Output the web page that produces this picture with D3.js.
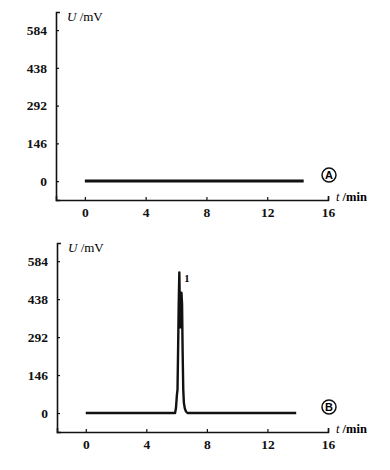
<!DOCTYPE html>
<html>
<head>
<meta charset="utf-8">
<script src="https://cdn.jsdelivr.net/npm/d3@7"></script>
<style>
  body { margin: 0; background: #fff; }
  svg { display: block; }
</style>
</head>
<body>
<div id="viz"></div>
<script>
// data
const xTicks = [0, 4, 8, 12, 16];
const yTicks = [0, 146, 292, 438, 584];

// panel A: flat baseline
const timeA = [0, 14.4];
const signalA = [0, 0];

// panel B: single split peak near 6.2 min
const timeB = [0, 5.9, 5.96, 6.02, 6.06, 6.1, 6.14, 6.18, 6.21, 6.25, 6.28, 6.32, 6.36, 6.4, 6.44, 6.48, 6.54, 6.62, 6.72, 13.9];
const signalB = [0, 0, 20, 70, 90, 250, 420, 541, 420, 330, 340, 463, 420, 230, 90, 40, 18, 6, 0, 0];
const peakLabels = ["1"];

const width = 390, height = 470;

const svg = d3.select("#viz")
  .append("svg")
  .attr("width", width)
  .attr("height", height)
  .style("font-family", "'Liberation Serif', 'Times New Roman', serif")
  .style("font-weight", "bold")
  .style("font-size", "12px");

function panel(opts) {
  const x = d3.scaleLinear().domain([-1.9, 16]).range([opts.left, opts.right]);
  const y = d3.scaleLinear().domain([-73, 654]).range([opts.bottom, opts.top]);

  const g = svg.append("g");

  const xAxis = g.append("g")
    .attr("transform", `translate(0,${opts.bottom})`)
    .call(d3.axisBottom(x).tickValues(xTicks).tickSizeInner(-3).tickSizeOuter(-4).tickPadding(7));

  const yAxis = g.append("g")
    .attr("transform", `translate(${opts.left},0)`)
    .call(d3.axisLeft(y).tickValues(yTicks).tickSizeInner(-3).tickSizeOuter(-4).tickPadding(9));

  [xAxis, yAxis].forEach(a => {
    a.select(".domain").attr("stroke", "#111").attr("stroke-width", 1.6);
    a.selectAll(".tick line").attr("stroke", "#111").attr("stroke-width", 1.2);
    a.selectAll(".tick text")
      .attr("fill", "#111")
      .style("font-family", "'Liberation Serif', serif")
      .style("font-size", "13.5px")
      .style("font-weight", "bold");
  });

  const line = d3.line().x((d, i) => x(opts.t[i])).y(d => y(d));

  g.append("path")
    .datum(opts.v)
    .attr("fill", "none")
    .attr("stroke", "#111")
    .attr("stroke-width", opts.lw)
    .attr("stroke-linejoin", "round")
    .attr("d", line);

  // axis titles
  const ut = g.append("text")
    .attr("x", opts.left + 11)
    .attr("y", opts.top + 9)
    .style("font-size", "13px");
  ut.append("tspan").style("font-style", "italic").style("font-weight", "normal").text("U");
  ut.append("tspan").style("font-weight", "normal").text(" /mV");

  const tt = g.append("text")
    .attr("x", x(16) + 8)
    .attr("y", opts.bottom + 1)
    .style("font-size", "12.5px");
  tt.append("tspan").style("font-style", "italic").style("font-weight", "normal").text("t");
  tt.append("tspan").text(" /min");

  // circled panel letter
  const cx = x(16) + 1, cy = y(0) - 6;
  g.append("circle")
    .attr("cx", cx).attr("cy", cy).attr("r", 7)
    .attr("fill", "none").attr("stroke", "#111").attr("stroke-width", 1.5);
  g.append("text")
    .attr("x", cx).attr("y", cy + 4)
    .attr("text-anchor", "middle")
    .style("font-size", "11px")
    .style("font-family", "'Liberation Sans', Arial, sans-serif")
    .text(opts.name);

  return { x, y, g };
}

panel({ name: "A", left: 56, right: 328, top: 12, bottom: 200, t: timeA, v: signalA, lw: 3 });

const pB = panel({ name: "B", left: 57, right: 328, top: 243, bottom: 432, t: timeB, v: signalB, lw: 2.4 });

// peak number
const iMax = d3.maxIndex(signalB);
pB.g.append("text")
  .attr("x", pB.x(timeB[iMax]) + 5)
  .attr("y", pB.y(signalB[iMax]) + 10)
  .style("font-size", "10.5px")
  .text(peakLabels[0]);
</script>
</body>
</html>
